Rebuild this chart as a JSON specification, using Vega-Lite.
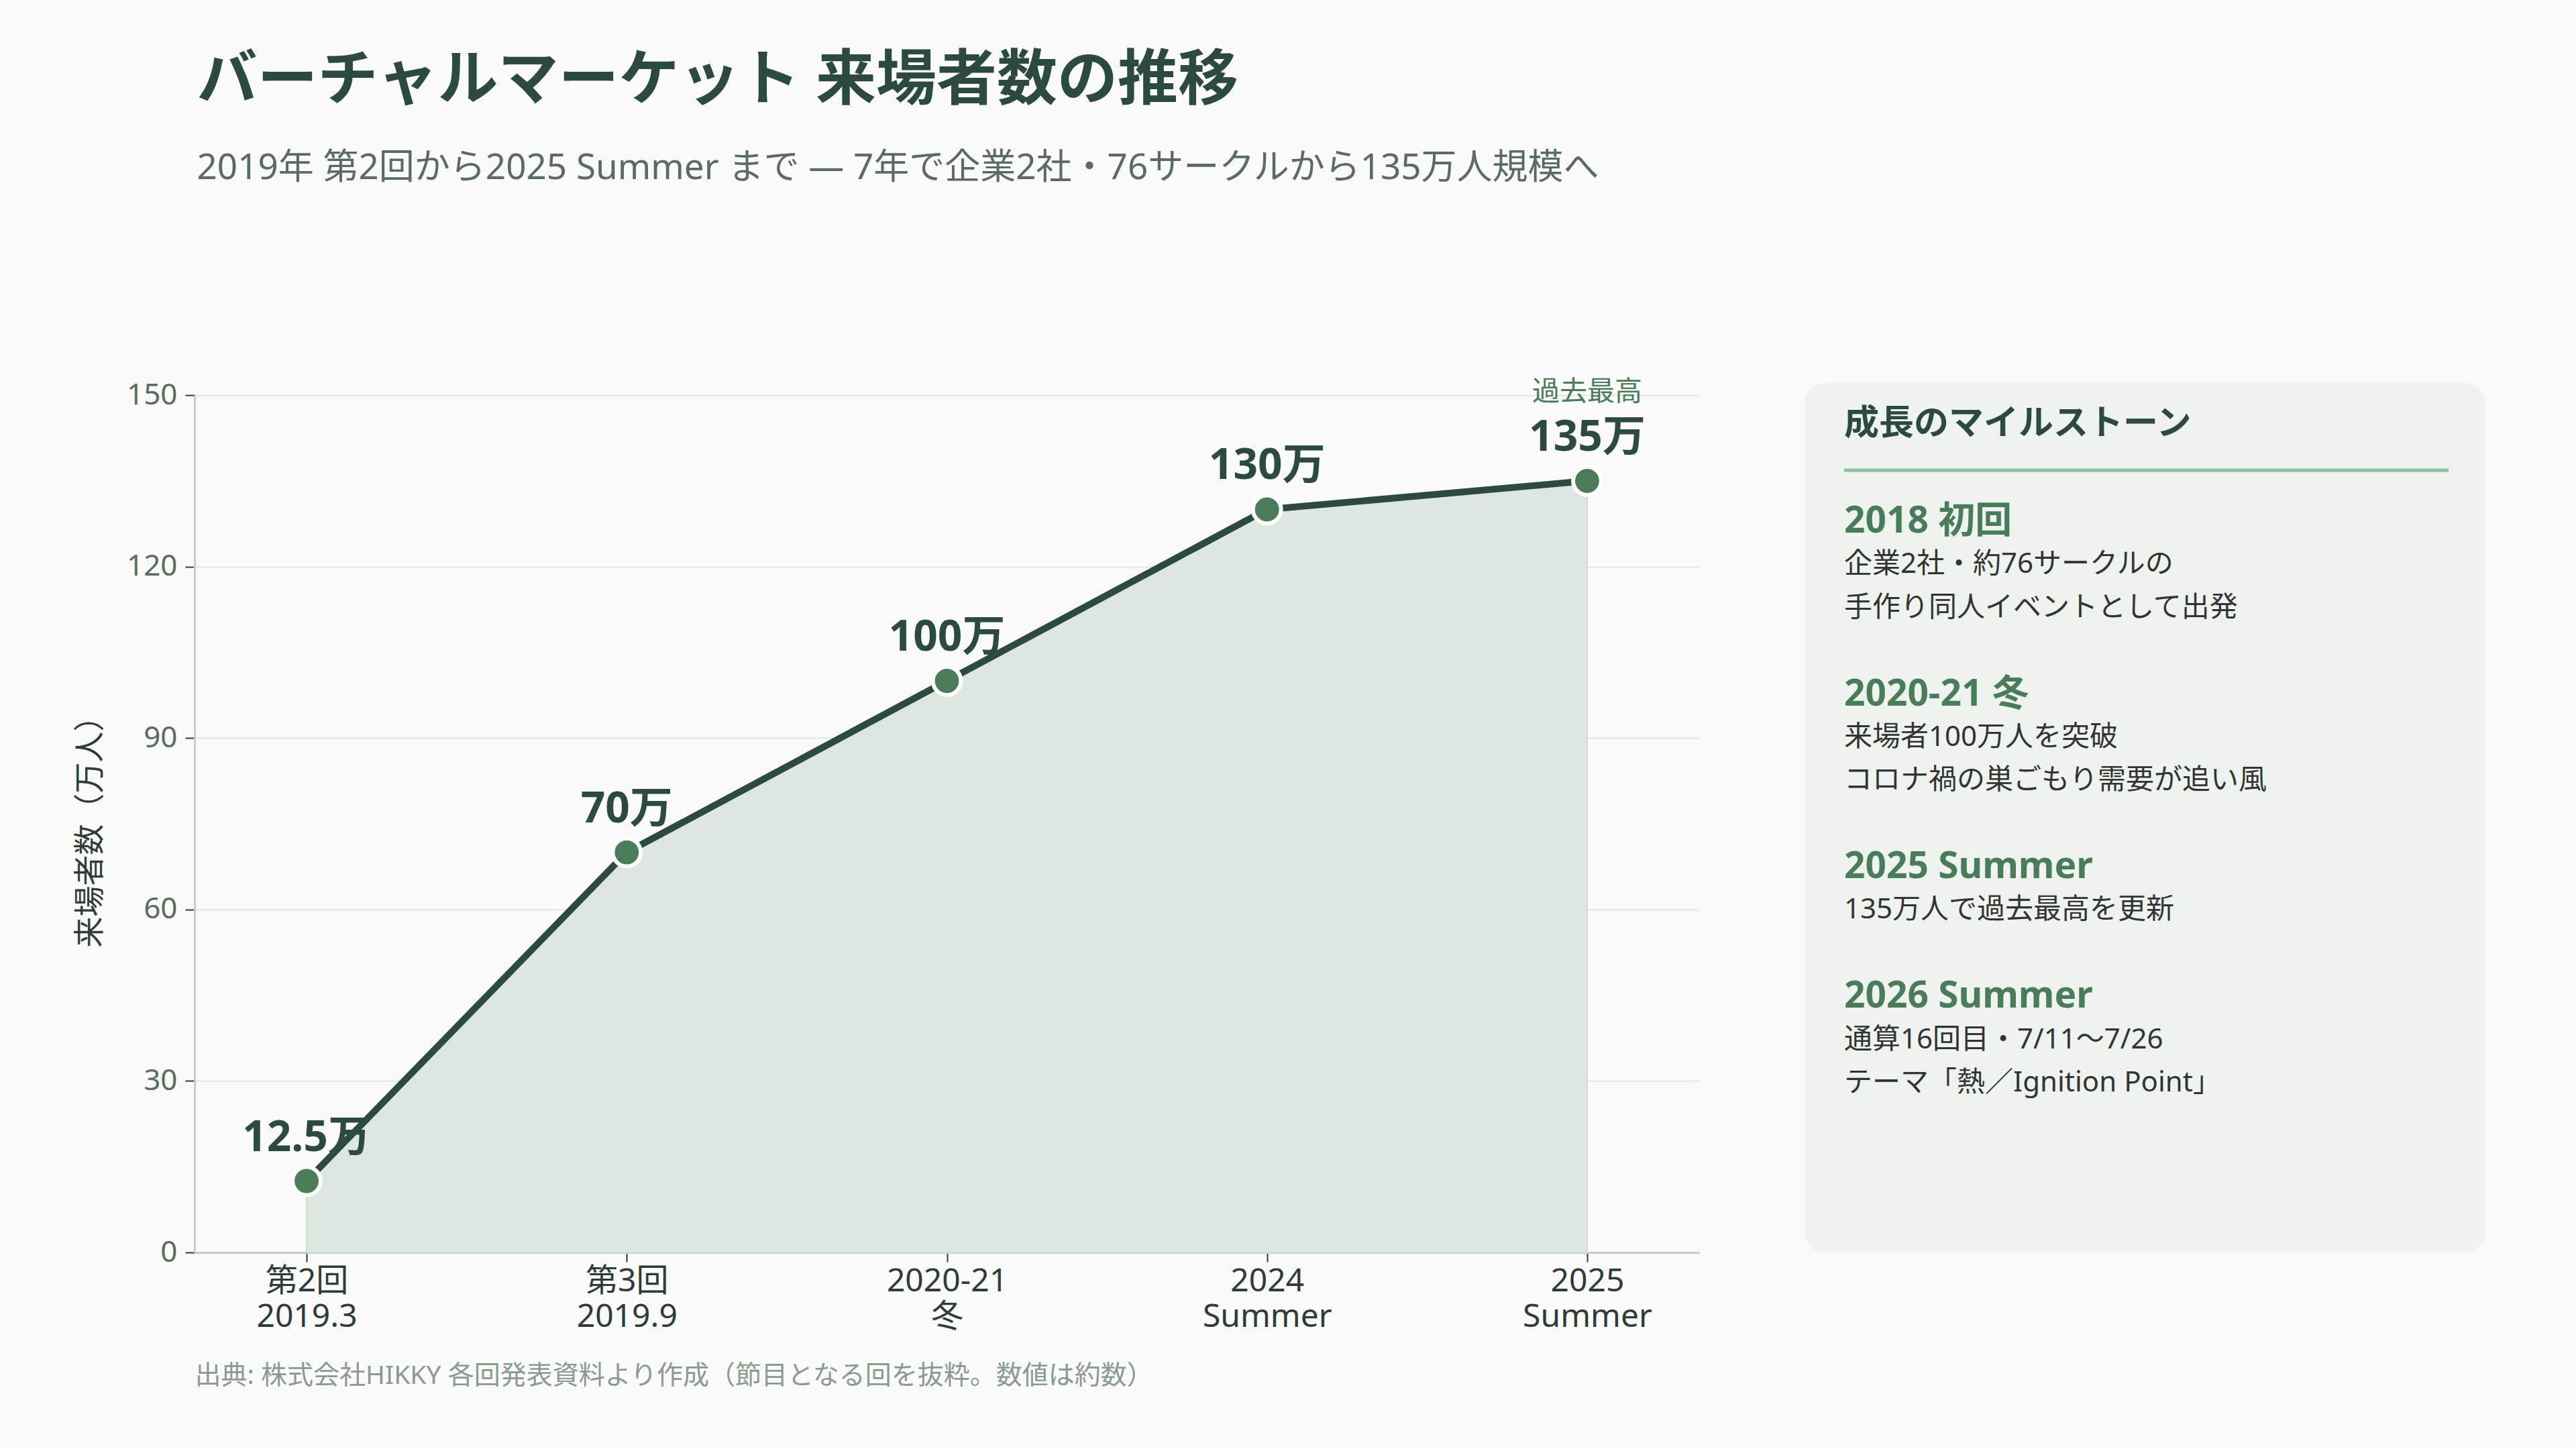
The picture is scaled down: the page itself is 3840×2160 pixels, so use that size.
{
  "$schema": "https://vega.github.io/schema/vega-lite/v6.json",
  "background": "#fafafa",
  "padding": {"left": 111, "top": 75, "right": 135, "bottom": 87},
  "config": {
    "font": "Noto Sans, Noto Sans CJK JP",
    "view": {"stroke": null}
  },
  "title": {
    "text": "バーチャルマーケット 来場者数の推移",
    "subtitle": "2019年 第2回から2025 Summer まで — 7年で企業2社・76サークルから135万人規模へ",
    "anchor": "start",
    "frame": "bounds",
    "dx": 182,
    "fontSize": 90,
    "fontWeight": "bold",
    "color": "#2d4a3e",
    "subtitleFontSize": 53,
    "subtitleColor": "#5a6b60",
    "subtitlePadding": 58,
    "offset": 285
  },
  "datasets": {
    "visits": [
      {"round": "第2回 2019.3", "visitors": 12.5, "label": "12.5万"},
      {"round": "第3回 2019.9", "visitors": 70, "label": "70万"},
      {"round": "2020-21 冬", "visitors": 100, "label": "100万"},
      {"round": "2024 Summer", "visitors": 130, "label": "130万"},
      {"round": "2025 Summer", "visitors": 135, "label": "135万", "note": "過去最高"}
    ],
    "milestones": [
      {"line": -2.25, "kind": "title", "text": "成長のマイルストーン"},
      {"line": 0, "kind": "heading", "text": "2018 初回"},
      {"line": 1, "kind": "body", "text": "企業2社・約76サークルの"},
      {"line": 2, "kind": "body", "text": "手作り同人イベントとして出発"},
      {"line": 4, "kind": "heading", "text": "2020-21 冬"},
      {"line": 5, "kind": "body", "text": "来場者100万人を突破"},
      {"line": 6, "kind": "body", "text": "コロナ禍の巣ごもり需要が追い風"},
      {"line": 8, "kind": "heading", "text": "2025 Summer"},
      {"line": 9, "kind": "body", "text": "135万人で過去最高を更新"},
      {"line": 11, "kind": "heading", "text": "2026 Summer"},
      {"line": 12, "kind": "body", "text": "通算16回目・7/11〜7/26"},
      {"line": 13, "kind": "body", "text": "テーマ「熱／Ignition Point」"}
    ]
  },
  "hconcat": [
    {
      "width": 2243,
      "height": 1278,
      "data": {"name": "visits"},
      "encoding": {
        "x": {
          "field": "round",
          "type": "nominal",
          "sort": null,
          "scale": {"type": "point", "padding": 0.35},
          "axis": {
            "title": "出典: 株式会社HIKKY 各回発表資料より作成（節目となる回を抜粋。数値は約数）",
            "titleAnchor": "start",
            "titleAlign": "left",
            "titleFontSize": 39,
            "titleFontWeight": "normal",
            "titleColor": "#8a9a8f",
            "titlePadding": 44,
            "labelExpr": "split(datum.label, ' ')",
            "labelAngle": 0,
            "labelFontSize": 48,
            "labelLimit": 600,
            "labelColor": "#2f3b35",
            "labelLineHeight": 53,
            "labelPadding": 5,
            "tickColor": "#2f3b35",
            "tickSize": 14,
            "tickWidth": 2,
            "domainColor": "#c5d0c8",
            "domainWidth": 3,
            "grid": false
          }
        },
        "y": {
          "field": "visitors",
          "type": "quantitative",
          "scale": {"domain": [0, 150], "nice": false},
          "axis": {
            "title": "来場者数（万人）",
            "titleFontSize": 46,
            "titleFontWeight": "normal",
            "titleColor": "#2f3b35",
            "titlePadding": 30,
            "values": [0, 30, 60, 90, 120, 150],
            "labelFontSize": 44,
            "labelColor": "#5a6b60",
            "labelPadding": 12,
            "tickColor": "#2f3b35",
            "tickSize": 14,
            "tickWidth": 2,
            "domainColor": "#c5d0c8",
            "domainWidth": 3,
            "gridColor": "#e2e6e3",
            "gridWidth": 2
          }
        }
      },
      "layer": [
        {"mark": {"type": "area", "color": "#dde7df", "opacity": 1, "stroke": "#cfdcd2", "strokeWidth": 2}},
        {
          "mark": {"type": "text", "fontSize": 64, "fontWeight": "bold", "color": "#2d4a3e", "baseline": "alphabetic", "dy": -45},
          "encoding": {"text": {"field": "label"}}
        },
        {
          "transform": [{"filter": "isValid(datum.note)"}],
          "mark": {"type": "text", "fontSize": 41, "color": "#4a7c59", "baseline": "alphabetic", "dy": -120},
          "encoding": {"text": {"field": "note"}}
        },
        {"mark": {"type": "line", "color": "#2d4a3e", "strokeWidth": 10}},
        {"mark": {"type": "point", "filled": true, "shape": "circle", "color": "#4a7c59", "stroke": "#ffffff", "strokeWidth": 6, "size": 1750, "opacity": 1}}
      ]
    },
    {
      "width": 1014,
      "height": 1278,
      "data": {"name": "milestones"},
      "encoding": {
        "y": {"field": "line", "type": "quantitative", "scale": {"domain": [-2.92, 16.93], "reverse": true, "nice": false, "zero": false}, "axis": null}
      },
      "layer": [
        {
          "transform": [{"filter": "datum.kind == 'title'"}],
          "layer": [
            {
              "mark": {"type": "rect", "color": "#eef3ef", "cornerRadius": 30},
              "encoding": {
                "x": {"datum": -0.0655, "type": "quantitative", "scale": {"domain": [-0.0655, 1.06], "nice": false, "zero": false}, "axis": null},
                "x2": {"datum": 1.06},
                "y": {"datum": -3.2, "type": "quantitative"},
                "y2": {"datum": 16.93}
              }
            },
            {
              "mark": {"type": "text", "fontSize": 52, "fontWeight": "bold", "color": "#2d4a3e", "align": "left", "baseline": "middle"},
              "encoding": {
                "x": {"datum": 0, "type": "quantitative"},
                "text": {"field": "text"}
              }
            },
            {
              "mark": {"type": "rule", "color": "#8fbf9c", "strokeWidth": 5},
              "encoding": {
                "x": {"datum": 0, "type": "quantitative"},
                "x2": {"datum": 1},
                "y": {"datum": -1.18, "type": "quantitative"}
              }
            }
          ]
        },
        {
          "transform": [{"filter": "datum.kind == 'heading'"}],
          "mark": {"type": "text", "fontSize": 55, "fontWeight": "bold", "color": "#4a7c59", "align": "left", "baseline": "middle"},
          "encoding": {
            "x": {"datum": 0, "type": "quantitative"},
            "text": {"field": "text"}
          }
        },
        {
          "transform": [{"filter": "datum.kind == 'body'"}],
          "mark": {"type": "text", "fontSize": 42, "color": "#333333", "align": "left", "baseline": "middle"},
          "encoding": {
            "x": {"datum": 0, "type": "quantitative"},
            "text": {"field": "text"}
          }
        }
      ]
    }
  ],
  "spacing": 157
}
